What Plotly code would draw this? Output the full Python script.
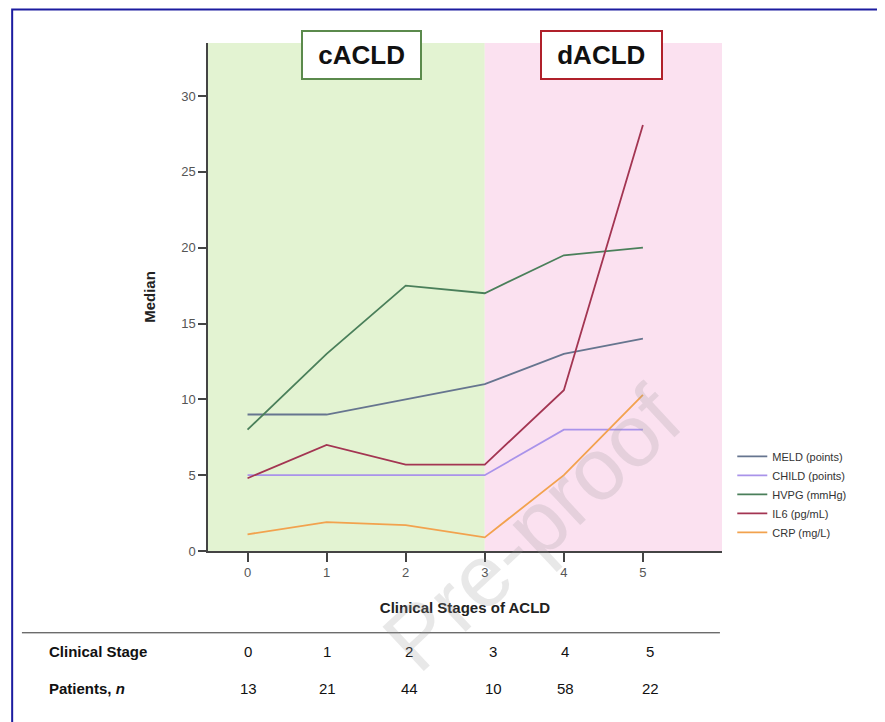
import plotly.graph_objects as go

stages = [0, 1, 2, 3, 4, 5]
meld = [9, 9, 10, 11, 13, 14]
child = [5, 5, 5, 5, 8, 8]
hvpg = [8, 13, 17.5, 17, 19.5, 20]
il6 = [4.8, 7, 5.7, 5.7, 10.6, 28.1]
crp = [1.1, 1.9, 1.7, 0.9, 5.0, 10.3]
patients = [13, 21, 44, 10, 58, 22]
series_names = ["MELD (points)", "CHILD (points)", "HVPG (mmHg)", "IL6 (pg/mL)", "CRP (mg/L)"]
series_colors = ["#66758f", "#a993ea", "#4a7f5a", "#a33552", "#f2a24e"]
FONT = "Arial, Liberation Sans, sans-serif"

fig = go.Figure()
for name, vals, col in zip(series_names, [meld, child, hvpg, il6, crp], series_colors):
    fig.add_trace(go.Scatter(x=stages, y=vals, mode="lines", name=name,
                             line=dict(color=col, width=1.8)))

# background regions
fig.add_shape(type="rect", xref="x", yref="paper", x0=-0.5, x1=3, y0=0, y1=1,
              fillcolor="#e3f3d2", line_width=0, layer="below")
fig.add_shape(type="rect", xref="x", yref="paper", x0=3, x1=6, y0=0, y1=1,
              fillcolor="#fbe1f0", line_width=0, layer="below")

# frame
fig.add_shape(type="rect", xref="paper", yref="paper", x0=-0.381, x1=1.5, y0=-0.5, y1=1.066,
              line=dict(color="#1c1ca0", width=2), fillcolor="rgba(0,0,0,0)")

# table rule
fig.add_shape(type="line", xref="paper", yref="paper", x0=-0.362, x1=0.996, y0=-0.161, y1=-0.161,
              line=dict(color="#333333", width=1))

# region labels
fig.add_annotation(x=1.44, y=32.7, xref="x", yref="y", text="&nbsp;<b>cACLD</b>&nbsp;", showarrow=False,
                   font=dict(family=FONT, size=26, color="#111"), bgcolor="white",
                   bordercolor="#5b8a4c", borderwidth=2, borderpad=8)
fig.add_annotation(x=4.47, y=32.7, xref="x", yref="y", text="&nbsp;<b>dACLD</b>&nbsp;", showarrow=False,
                   font=dict(family=FONT, size=26, color="#111"), bgcolor="white",
                   bordercolor="#b0202a", borderwidth=2, borderpad=8)

# table
fig.add_annotation(x=-0.313, y=-0.197, xref="paper", yref="paper", text="<b>Clinical Stage</b>",
                   showarrow=False, xanchor="left", yanchor="middle",
                   font=dict(family=FONT, size=15, color="#111"))
fig.add_annotation(x=-0.313, y=-0.27, xref="paper", yref="paper", text="<b>Patients, <i>n</i></b>",
                   showarrow=False, xanchor="left", yanchor="middle",
                   font=dict(family=FONT, size=15, color="#111"))
offsets = [0, 0, 3, 8, 1, 7]
for s, p, off in zip(stages, patients, offsets):
    fig.add_annotation(x=s, y=-0.197, xref="x", yref="paper", text=str(s), showarrow=False,
                       xshift=off, yanchor="middle", font=dict(family=FONT, size=15, color="#111"))
    fig.add_annotation(x=s, y=-0.27, xref="x", yref="paper", text=str(p), showarrow=False,
                       xshift=off + 1, yanchor="middle", font=dict(family=FONT, size=15, color="#111"))

# watermark
fig.add_annotation(x=0.630, y=0.045, xref="paper", yref="paper", text="Pre-proof",
                   showarrow=False, textangle=-43, xanchor="center", yanchor="middle",
                   font=dict(family=FONT, size=88, color="rgba(150,150,150,0.22)"))

fig.update_layout(
    width=877, height=714,
    margin=dict(l=200, r=163, t=35, b=171),
    paper_bgcolor="white", plot_bgcolor="white",
    font=dict(family=FONT, size=13, color="#555"),
    showlegend=True,
    legend=dict(x=1.02, y=0.215, xanchor="left", yanchor="top",
                font=dict(family=FONT, size=11, color="#333"),
                bgcolor="rgba(0,0,0,0)", tracegroupgap=0, itemwidth=30),
    xaxis=dict(range=[-0.5, 6], tickvals=stages, showgrid=False, zeroline=False,
               showline=True, linecolor="#444", linewidth=1.5,
               ticks="outside", ticklen=9, tickcolor="#444", tickwidth=1.5,
               tickfont=dict(size=13, color="#555"),
               title=dict(text="<b>Clinical Stages of ACLD</b>", standoff=23,
                          font=dict(family=FONT, size=15, color="#222"))),
    yaxis=dict(range=[0, 33.5], tickvals=[0, 5, 10, 15, 20, 25, 30], showgrid=False, zeroline=False,
               showline=True, linecolor="#444", linewidth=1.5,
               ticks="outside", ticklen=8, tickcolor="#444", tickwidth=1.5,
               tickfont=dict(size=13, color="#555"),
               title=dict(text="<b>Median</b>", standoff=22,
                          font=dict(family=FONT, size=15, color="#222"))),
)

fig.write_html("out.html")
